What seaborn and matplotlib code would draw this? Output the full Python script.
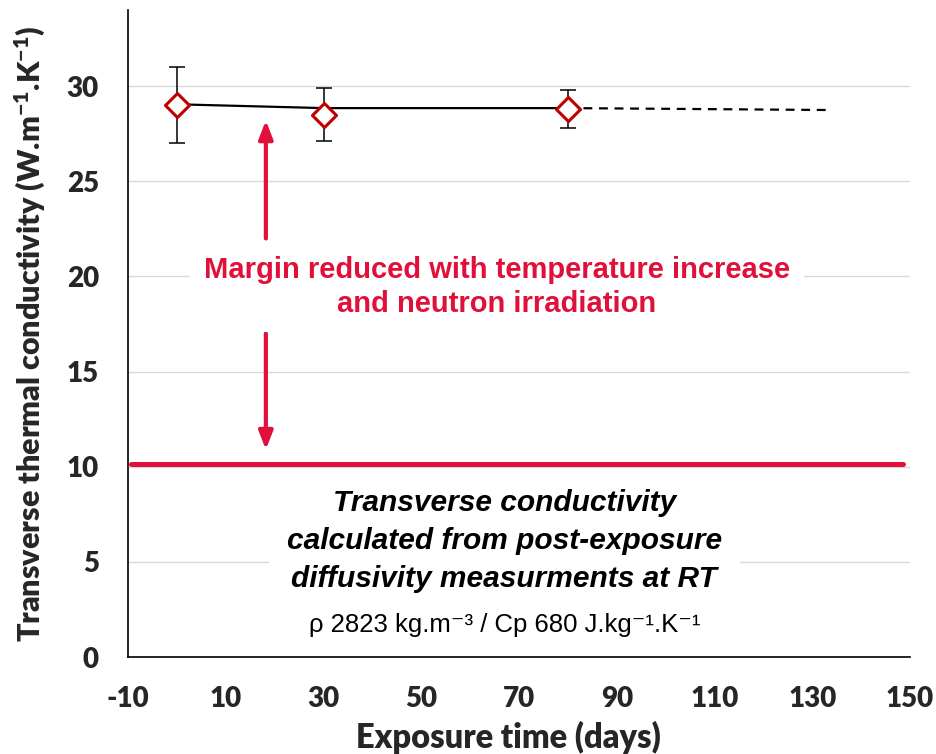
import matplotlib
matplotlib.use("Agg")
import matplotlib.pyplot as plt
import seaborn as sns
import pandas as pd

# Measured transverse conductivity vs exposure time
days = [0, 30, 80]
conductivity = [29.0, 28.5, 28.8]
err_low = [2.0, 1.4, 1.0]
err_high = [2.0, 1.4, 1.0]

# Trend through the measurements (solid) and its extrapolation (dashed)
trend_days = [0, 30, 80]
trend_vals = [29.05, 28.85, 28.85]
extrap_days = [80, 133]
extrap_vals = [28.85, 28.75]

# Design limit
limit_value = 10.15
limit_days = [-9.3, 148.5]

x_ticks = [-10, 10, 30, 50, 70, 90, 110, 130, 150]
y_ticks = [0, 5, 10, 15, 20, 25, 30]

RED = "#E0103A"
DARK_RED = "#C00000"

sns.set_theme(style="white")
plt.rcParams["font.family"] = ["Lato", "DejaVu Sans"]
plt.rcParams["axes.unicode_minus"] = False
plt.rcParams["mathtext.fontset"] = "custom"
plt.rcParams["mathtext.rm"] = "Lato:heavy"
plt.rcParams["mathtext.default"] = "rm"

fig = plt.figure(figsize=(9.36, 7.54), dpi=100)
ax = fig.add_axes([0.1368, 0.1286, 0.8354, 0.8580])

ax.set_xlim(-10, 150)
ax.set_ylim(0, 34)
ax.set_xticks(x_ticks)
ax.set_yticks(y_ticks)
ax.set_xticklabels([str(v) for v in x_ticks])
ax.set_yticklabels([str(v) for v in y_ticks])

for y in y_ticks[1:]:
    ax.axhline(y, color="#d9d9d9", lw=1.0, zorder=0)

trend = pd.DataFrame({"days": trend_days, "k": trend_vals})
extrap = pd.DataFrame({"days": extrap_days, "k": extrap_vals})
limit = pd.DataFrame({"days": limit_days, "k": [limit_value, limit_value]})
meas = pd.DataFrame({"days": days, "k": conductivity})

sns.lineplot(data=trend, x="days", y="k", color="black", lw=1.6, ax=ax, zorder=3)
sns.lineplot(data=extrap, x="days", y="k", color="black", lw=1.6, ax=ax,
             linestyle=(0, (4, 3)), zorder=3)
sns.lineplot(data=limit, x="days", y="k", color=RED, lw=3.6, ax=ax, zorder=7)

ax.errorbar(days, conductivity, yerr=[err_low, err_high], fmt="none",
            ecolor="black", elinewidth=1.1, capsize=5.5, capthick=1.1, zorder=4)
sns.scatterplot(data=meas, x="days", y="k", marker="D", s=150,
                facecolor="white", edgecolor=DARK_RED, linewidth=2.2,
                ax=ax, zorder=5)

# Margin arrows
arrow_x = 18.2
head = "-|>,head_width=0.35,head_length=0.9"
ax.annotate("", xy=(arrow_x, 28.2), xytext=(arrow_x, 22.0),
            arrowprops=dict(arrowstyle=head, color=RED, lw=3.0,
                            shrinkA=0, shrinkB=0), zorder=6)
ax.annotate("", xy=(arrow_x, 10.9), xytext=(arrow_x, 17.0),
            arrowprops=dict(arrowstyle=head, color=RED, lw=3.0,
                            shrinkA=0, shrinkB=0), zorder=6)

arial = ["Liberation Sans", "DejaVu Sans"]
ax.text(65.5, 19.45, "Margin reduced with temperature increase\nand neutron irradiation",
        ha="center", va="center", color=RED, fontsize=21, fontweight="bold",
        family=arial, linespacing=1.25,
        bbox=dict(facecolor="white", edgecolor="none", pad=10), zorder=6)

ax.text(67, 6.1, "Transverse conductivity\ncalculated from post-exposure\ndiffusivity measurments at RT",
        ha="center", va="center", color="black", fontsize=21.5, fontweight="bold",
        style="italic", family=arial, linespacing=1.45,
        bbox=dict(facecolor="white", edgecolor="none", pad=13), zorder=6)

ax.text(67, 1.7, "ρ 2823 kg.m⁻³ / Cp 680 J.kg⁻¹.K⁻¹",
        ha="center", va="center", color="black", fontsize=18.5,
        family=arial, zorder=6)

sns.despine(ax=ax)
for side in ("left", "bottom"):
    ax.spines[side].set_color("black")
    ax.spines[side].set_linewidth(1.2)

ax.tick_params(axis="both", direction="out", length=8, width=1.2, color="black",
               labelsize=20)
ax.tick_params(axis="x", pad=13)
ax.tick_params(axis="y", pad=13)
for lab in ax.get_xticklabels() + ax.get_yticklabels():
    lab.set_fontweight("heavy")

ax.set_xlabel("Exposure time (days)", fontsize=23.5, fontweight="heavy")
ax.xaxis.set_label_coords(0.487, -0.125, transform=ax.transAxes)
ax.xaxis.label.set_va("center")
ax.set_ylabel("Transverse thermal conductivity (W.m$^{-1}$.K$^{-1}$)",
              fontsize=22, fontweight="heavy", labelpad=14)

fig.savefig("out.png", dpi=100)
